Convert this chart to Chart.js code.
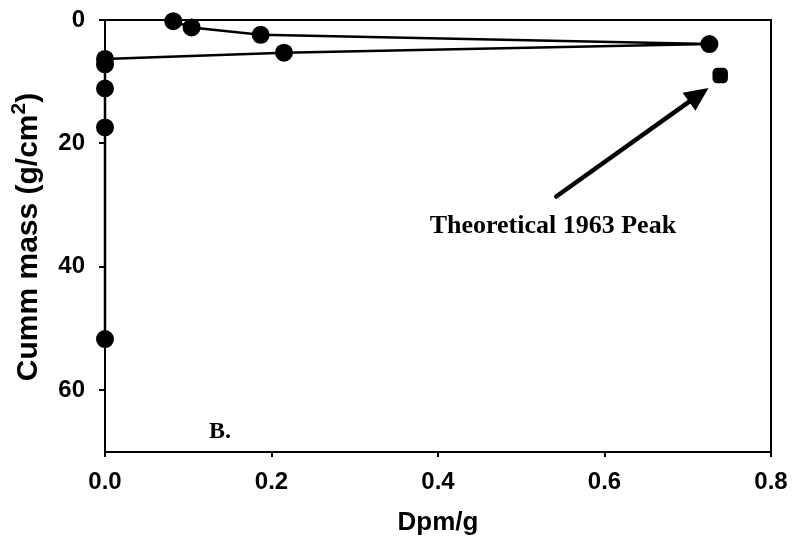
<!DOCTYPE html>
<html><head><meta charset="utf-8">
<script src="https://cdn.jsdelivr.net/npm/chart.js@4"></script>
<style>html,body{margin:0;padding:0;background:#fff}#wrap{width:794px;height:543px}</style>
</head><body><div id="wrap"><canvas id="c" width="794" height="543"></canvas></div>
<script>
// Data
const cummMass = [0.2, 1.2, 2.4, 3.9, 5.3, 6.3, 7.2, 11.1, 17.4, 51.7];
const dpmPerG  = [0.082, 0.104, 0.187, 0.726, 0.215, 0, 0, 0, 0, 0];
const peakMass = [9.0];
const peakDpm  = [0.739];
const xTicks = [0, 0.2, 0.4, 0.6, 0.8];
const yTicks = [0, 20, 40, 60];
const yTitleMain = "Cumm mass (g/cm";
const yTitleSup = "2";
const yTitleEnd = ")";
const xTitle = "Dpm/g";
const annotationText = "Theoretical 1963 Peak";
const panelLabel = "B.";
const arrowFrom = {x: 0.542, y: 28.6};
const arrowTo = {x: 0.725, y: 11.0};

const SANS = '"Liberation Sans", Arial, sans-serif';
const SERIF = '"Liberation Serif", "Times New Roman", serif';

const frame = {
  id: 'frame',
  afterDraw(chart) {
    const {ctx, chartArea: a, scales: {x, y}} = chart;
    ctx.save();
    ctx.strokeStyle = '#000'; ctx.lineWidth = 2;
    ctx.strokeRect(a.left, a.top, a.right - a.left, a.bottom - a.top);
    // arrow
    const x0 = x.getPixelForValue(arrowFrom.x), y0 = y.getPixelForValue(arrowFrom.y);
    const x1 = x.getPixelForValue(arrowTo.x), y1 = y.getPixelForValue(arrowTo.y);
    const ang = Math.atan2(y1 - y0, x1 - x0);
    const hl = 24, hw = 11;
    const bx = x1 - hl * Math.cos(ang), by = y1 - hl * Math.sin(ang);
    ctx.lineWidth = 4.5; ctx.lineCap = 'round';
    ctx.beginPath(); ctx.moveTo(x0, y0); ctx.lineTo(bx + 2 * Math.cos(ang), by + 2 * Math.sin(ang)); ctx.stroke();
    ctx.fillStyle = '#000';
    ctx.beginPath();
    ctx.moveTo(x1, y1);
    ctx.lineTo(bx + hw * Math.sin(ang), by - hw * Math.cos(ang));
    ctx.lineTo(bx - hw * Math.sin(ang), by + hw * Math.cos(ang));
    ctx.closePath(); ctx.fill();
    // texts
    ctx.font = 'bold 26px ' + SERIF;
    ctx.textAlign = 'center'; ctx.textBaseline = 'middle';
    ctx.fillText(annotationText, x.getPixelForValue(0.538), y.getPixelForValue(33.5));
    ctx.font = 'bold 24px ' + SERIF;
    ctx.fillText(panelLabel, x.getPixelForValue(0.138), y.getPixelForValue(66.8));
    // y title with superscript
    ctx.translate(29, 237);
    ctx.rotate(-Math.PI / 2);
    ctx.textAlign = 'left'; ctx.textBaseline = 'middle';
    const fMain = 'bold 30px ' + SANS, fSup = 'bold 21px ' + SANS;
    ctx.font = fMain; const w1 = ctx.measureText(yTitleMain).width; const w3 = ctx.measureText(yTitleEnd).width;
    ctx.font = fSup; const w2 = ctx.measureText(yTitleSup).width;
    let sx = -(w1 + w2 + w3) / 2;
    ctx.font = fMain; ctx.fillText(yTitleMain, sx, 0); sx += w1;
    ctx.font = fSup; ctx.fillText(yTitleSup, sx, -10); sx += w2;
    ctx.font = fMain; ctx.fillText(yTitleEnd, sx, 0);
    ctx.restore();
  }
};

new Chart(document.getElementById('c'), {
  type: 'scatter',
  data: {
    datasets: [
      {
        data: cummMass.map((m, i) => ({x: dpmPerG[i], y: m})),
        showLine: true, borderColor: '#000', borderWidth: 2.5,
        pointBackgroundColor: '#000', pointBorderColor: '#000',
        pointRadius: 9, pointBorderWidth: 0, pointStyle: 'circle', clip: false
      },
      {
        data: peakMass.map((m, i) => ({x: peakDpm[i], y: m})),
        showLine: false,
        pointBackgroundColor: '#000', pointBorderColor: '#000',
        pointRadius: 9, pointBorderWidth: 0, pointStyle: 'rectRounded', clip: false
      }
    ]
  },
  options: {
    responsive: false, animation: false,
    layout: {padding: {top: 20, right: 23, left: 0, bottom: 0}},
    plugins: {legend: {display: false}, tooltip: {enabled: false}},
    scales: {
      x: {
        type: 'linear', min: 0, max: 0.8,
        afterBuildTicks: s => { s.ticks = xTicks.map(v => ({value: v})); },
        afterFit: s => { s.height = 91; s.paddingLeft = 0; s.paddingRight = 0; },
        grid: {display: true, drawOnChartArea: false, tickLength: 5, color: '#000', lineWidth: 2},
        border: {display: true, color: '#000', width: 2},
        ticks: {color: '#000', font: {family: SANS, size: 24, weight: 'bold'},
                padding: 11, maxRotation: 0, callback: v => Number(v).toFixed(1)},
        title: {display: true, text: xTitle, color: '#000', padding: {top: 0, bottom: 5},
                font: {family: SANS, size: 26, weight: 'bold'}}
      },
      y: {
        type: 'linear', min: 0, max: 70, reverse: true,
        afterBuildTicks: s => { s.ticks = yTicks.map(v => ({value: v})); },
        afterFit: s => { s.width = 105; s.paddingTop = 0; s.paddingBottom = 0; },
        grid: {display: true, drawOnChartArea: false, tickLength: 6, color: '#000', lineWidth: 2},
        border: {display: true, color: '#000', width: 2},
        ticks: {color: '#000', font: {family: SANS, size: 24, weight: 'bold'}, padding: 14},
        title: {display: false}
      }
    }
  },
  plugins: [frame]
});
</script>
</body></html>
